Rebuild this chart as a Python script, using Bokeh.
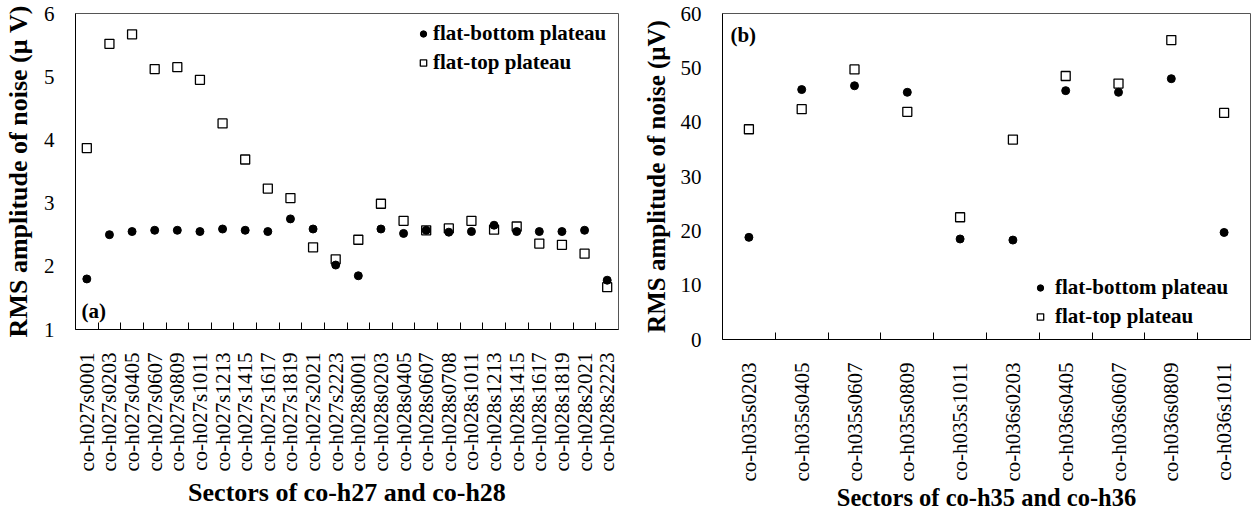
import math

from bokeh.plotting import figure
from bokeh.models import ColumnDataSource, FixedTicker, Range1d, Legend, LegendItem, Label
from bokeh.layouts import row
from bokeh.embed import file_html
from bokeh.resources import INLINE

SERIF = "Liberation Serif"

# ---- panel (a): sectors of co-h27 and co-h28 ----
sectors_a = [
    "co-h027s0001", "co-h027s0203", "co-h027s0405", "co-h027s0607",
    "co-h027s0809", "co-h027s1011", "co-h027s1213", "co-h027s1415",
    "co-h027s1617", "co-h027s1819", "co-h027s2021", "co-h027s2223",
    "co-h028s0001", "co-h028s0203", "co-h028s0405", "co-h028s0607",
    "co-h028s0708", "co-h028s1011", "co-h028s1213", "co-h028s1415",
    "co-h028s1617", "co-h028s1819", "co-h028s2021", "co-h028s2223",
]
flat_bottom_a = [1.80, 2.50, 2.55, 2.57, 2.57, 2.55, 2.59, 2.57, 2.55, 2.75, 2.59, 2.02,
                 1.85, 2.59, 2.52, 2.57, 2.54, 2.55, 2.65, 2.55, 2.55, 2.55, 2.57, 1.78]
flat_top_a = [3.87, 5.52, 5.67, 5.12, 5.15, 4.95, 4.26, 3.69, 3.23, 3.08, 2.30, 2.11,
              2.42, 2.99, 2.72, 2.57, 2.60, 2.72, 2.58, 2.63, 2.36, 2.34, 2.20, 1.67]
y_ticks_a = [1, 2, 3, 4, 5, 6]

# ---- panel (b): sectors of co-h35 and co-h36 ----
sectors_b = [
    "co-h035s0203", "co-h035s0405", "co-h035s0607", "co-h035s0809", "co-h035s1011",
    "co-h036s0203", "co-h036s0405", "co-h036s0607", "co-h036s0809", "co-h036s1011",
]
flat_bottom_b = [18.8, 46.0, 46.7, 45.5, 18.5, 18.3, 45.8, 45.5, 48.0, 19.7]
flat_top_b = [38.7, 42.4, 49.7, 41.9, 22.5, 36.8, 48.5, 47.1, 55.1, 41.7]
y_ticks_b = [0, 10, 20, 30, 40, 50, 60]


def make_panel(sectors, bottom, top, y_ticks, y_title, x_title, tag,
               frame_w, frame_h, borders, legend_pos, legend_standoff,
               tag_pos, x_title_size, y_title_size, x_title_standoff):
    n = len(sectors)
    centers = [i + 0.5 for i in range(n)]
    src = ColumnDataSource(dict(x=centers, bottom=bottom, top=top, name=sectors))

    left, right, top_b, bottom_b = borders
    p = figure(frame_width=frame_w, frame_height=frame_h,
               x_range=Range1d(0, n), y_range=Range1d(y_ticks[0], y_ticks[-1]),
               output_backend="svg", toolbar_location=None,
               min_border_left=left, min_border_right=right,
               min_border_top=top_b, min_border_bottom=bottom_b,
               background_fill_color="white", border_fill_color="white")
    p.xgrid.visible = False
    p.ygrid.visible = False
    p.outline_line_color = "#555555"
    p.outline_line_width = 1

    sq = p.scatter("x", "top", source=src, marker="square", size=9,
                   fill_color="white", line_color="black", line_width=1.3)
    ci = p.scatter("x", "bottom", source=src, marker="circle", size=8,
                   fill_color="black", line_color="black")

    # x axis: sector names centred in each slot, tick marks on slot boundaries
    xa = p.xaxis[0]
    xa.ticker = FixedTicker(ticks=centers, minor_ticks=list(range(1, n)))
    xa.major_label_overrides = {c: s for c, s in zip(centers, sectors)}
    xa.major_label_orientation = math.pi / 2
    xa.major_tick_line_color = None
    xa.minor_tick_in = 7
    xa.minor_tick_out = 0
    xa.minor_tick_line_color = "black"
    xa.major_label_standoff = 17
    xa.major_label_text_font = SERIF
    xa.major_label_text_font_size = "21px"
    xa.major_label_text_color = "black"
    xa.axis_line_color = "black"
    xa.axis_label = x_title
    xa.axis_label_text_font = SERIF
    xa.axis_label_text_font_style = "bold"
    xa.axis_label_text_font_size = x_title_size
    xa.axis_label_text_color = "black"
    xa.axis_label_standoff = x_title_standoff

    ya = p.yaxis[0]
    ya.ticker = FixedTicker(ticks=y_ticks)
    ya.major_tick_line_color = None
    ya.minor_tick_line_color = None
    ya.major_label_standoff = 15
    ya.major_label_text_font = SERIF
    ya.major_label_text_font_size = "21px"
    ya.major_label_text_color = "black"
    ya.axis_line_color = "black"
    ya.axis_label = y_title
    ya.axis_label_text_font = SERIF
    ya.axis_label_text_font_style = "bold"
    ya.axis_label_text_font_size = y_title_size
    ya.axis_label_text_color = "black"
    ya.axis_label_standoff = 8

    legend = Legend(items=[LegendItem(label="flat-bottom plateau", renderers=[ci]),
                           LegendItem(label="flat-top plateau", renderers=[sq])],
                    location=legend_pos, orientation="vertical",
                    label_text_font=SERIF, label_text_font_style="bold",
                    label_text_font_size="21px", label_text_color="black",
                    glyph_width=16, glyph_height=29, label_height=29,
                    label_standoff=legend_standoff, spacing=0, padding=0, margin=0,
                    border_line_color=None, background_fill_alpha=0)
    p.add_layout(legend)

    p.add_layout(Label(x=tag_pos[0], y=tag_pos[1], text=tag, text_font=SERIF,
                       text_font_style="bold", text_font_size="21px",
                       text_baseline="middle", text_color="black"))
    return p


pa = make_panel(sectors_a, flat_bottom_a, flat_top_a, y_ticks_a,
                "RMS amplitude of noise (\u03bc V)", "Sectors of co-h27 and co-h28", "(a)",
                frame_w=543, frame_h=316, borders=(68, 10, 13, 184),
                legend_pos=(340, 252), legend_standoff=2,
                tag_pos=(0.26, 1.29), x_title_size="26px", y_title_size="26px",
                x_title_standoff=4)

pb = make_panel(sectors_b, flat_bottom_b, flat_top_b, y_ticks_b,
                "RMS amplitude of noise (\u03bcV)", "Sectors of co-h35 and co-h36", "(b)",
                frame_w=528, frame_h=326, borders=(94, 15, 12, 175),
                legend_pos=(310, 8), legend_standoff=7,
                tag_pos=(0.15, 56.1), x_title_size="24.5px", y_title_size="25px",
                x_title_standoff=0)

layout = row(pa, pb)
open("out.html", "w").write(file_html(layout, INLINE))
